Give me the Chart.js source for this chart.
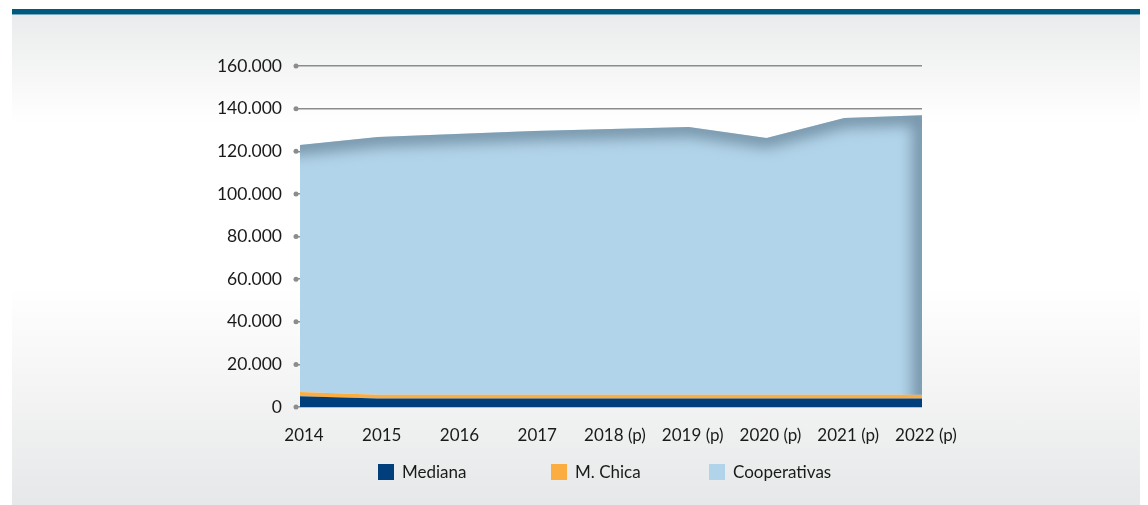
<!DOCTYPE html>
<html>
<head>
<meta charset="utf-8">
<script src="https://cdn.jsdelivr.net/npm/chart.js@4.4.1/dist/chart.umd.min.js"></script>
<style>
  html, body { margin: 0; padding: 0; background: #fff; }
  body { width: 1148px; height: 505px; position: relative; overflow: hidden; font-family: Lato, "Open Sans", sans-serif; }
  #panel {
    position: absolute; left: 12px; top: 9px; width: 1128px; height: 496px;
    border-top: 5px solid #005a80;
    box-shadow: inset 0 1px 0 #7aa8bf;
    background: linear-gradient(to bottom, #eaebec 0%, #ffffff 22%, #ffffff 55%, #e6e7e8 100%);
  }
  #wrap { position: absolute; left: 0; top: 0; width: 1148px; height: 505px; }
  #legend { position: absolute; top: 461px; left: 0; width: 1148px; height: 20px; font-size: 17px; color: #1a1a1a; }
  .item { position: absolute; top: 0; display: flex; align-items: center; }
  .box { width: 16px; height: 16px; margin-right: 8px; }
</style>
</head>
<body>
<div id="panel"></div>
<div id="wrap"><canvas id="areaChart" width="1148" height="505"></canvas></div>
<div id="legend"></div>
<script>
// Data
const years = ["2014", "2015", "2016", "2017", "2018 (p)", "2019 (p)", "2020 (p)", "2021 (p)", "2022 (p)"];
const mediana = [5000, 4000, 4000, 4000, 4000, 4000, 4000, 4000, 4000];
const chica = [2000, 1700, 1700, 1800, 1800, 1800, 1800, 1800, 1800];
const cooperativas = [115900, 121000, 122400, 123700, 124600, 125600, 120400, 129800, 131100];
const seriesNames = ["Mediana", "M. Chica", "Cooperativas"];
const seriesColors = ["#003f7c", "#fbad42", "#b2d4ea"];
const legendX = [378, 551, 709];

const fmt = (v) => String(v).replace(/\B(?=(\d{3})+(?!\d))/g, ".");

// inner shadow on the top/right edge of the Cooperativas area, plus dots at tick starts
const shadePlugin = {
  id: "shade",
  afterDatasetsDraw(chart) {
    const ctx = chart.ctx;
    const top = chart.getDatasetMeta(2).data;
    const bot = chart.getDatasetMeta(1).data;
    ctx.save();
    ctx.beginPath();
    top.forEach((p, i) => (i ? ctx.lineTo(p.x, p.y) : ctx.moveTo(p.x, p.y)));
    for (let i = bot.length - 1; i >= 0; i--) ctx.lineTo(bot[i].x, bot[i].y);
    ctx.closePath();
    ctx.clip();
    ctx.filter = "blur(7px)";
    ctx.strokeStyle = "rgba(110,140,160,0.85)";
    ctx.lineWidth = 20;
    ctx.lineJoin = "round";
    ctx.beginPath();
    ctx.moveTo(top[0].x - 30, top[0].y);
    top.forEach((p) => ctx.lineTo(p.x, p.y));
    const last = top[top.length - 1];
    ctx.lineTo(last.x, bot[bot.length - 1].y + 30);
    ctx.stroke();
    ctx.restore();
  },
  afterDraw(chart) {
    const ctx = chart.ctx;
    const y = chart.scales.y;
    ctx.save();
    ctx.fillStyle = "#8c8c8c";
    y.ticks.forEach((t) => {
      ctx.beginPath();
      ctx.arc(chart.chartArea.left - 4, y.getPixelForValue(t.value), 2.5, 0, Math.PI * 2);
      ctx.fill();
    });
    ctx.restore();
  },
};

const ctx = document.getElementById("areaChart").getContext("2d");
new Chart(ctx, {
  type: "line",
  data: {
    labels: years,
    datasets: [
      { label: seriesNames[0], data: mediana, backgroundColor: seriesColors[0], borderWidth: 0, pointRadius: 0, fill: "origin", tension: 0 },
      { label: seriesNames[1], data: chica, backgroundColor: seriesColors[1], borderWidth: 0, pointRadius: 0, fill: "-1", tension: 0 },
      { label: seriesNames[2], data: cooperativas, backgroundColor: seriesColors[2], borderWidth: 0, pointRadius: 0, fill: "-1", tension: 0 },
    ],
  },
  options: {
    responsive: false,
    animation: false,
    layout: { padding: { left: 200, right: 226, top: 66, bottom: 58 } },
    plugins: {
      legend: { display: false },
      tooltip: { enabled: false },
    },
    scales: {
      x: {
        offset: false,
        grid: { display: false },
        border: { display: false },
        ticks: { padding: 10, labelOffset: 4, color: "#1a1a1a", font: { family: "Lato", size: 17 }, maxRotation: 0, autoSkip: false },
        afterFit(scale) { scale.height = 40; },
      },
      y: {
        stacked: true,
        min: 0,
        max: 160000,
        border: { display: false },
        grid: { color: "#8c8c8c", lineWidth: 1.5, tickLength: 4 },
        ticks: { stepSize: 20000, padding: 14, color: "#1a1a1a", font: { family: "Lato", size: 17.5 }, callback: (v) => fmt(v) },
        afterFit(scale) { scale.width = 100; },
      },
    },
  },
  plugins: [shadePlugin],
});

// Legend
const legend = document.getElementById("legend");
seriesNames.forEach((name, i) => {
  const item = document.createElement("div");
  item.className = "item";
  item.style.left = legendX[i] + "px";
  item.innerHTML = '<div class="box" style="background:' + seriesColors[i] + '"></div><span>' + name + "</span>";
  legend.appendChild(item);
});
</script>
</body>
</html>
